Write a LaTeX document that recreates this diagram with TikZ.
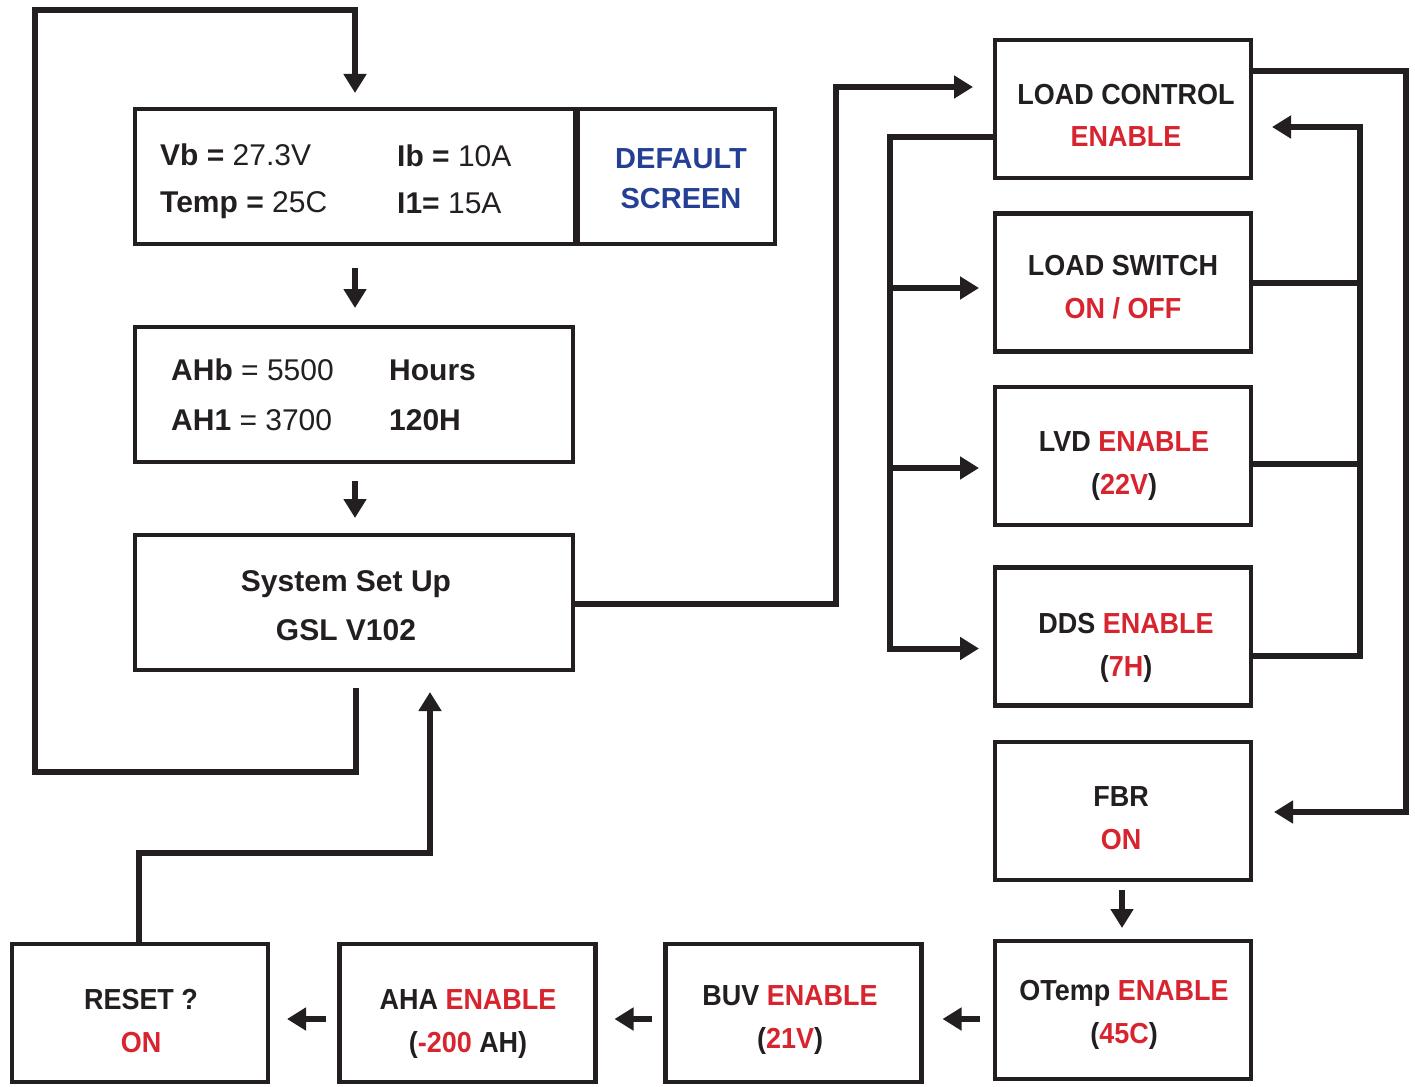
\documentclass[tikz,border=0pt]{standalone}
\usepackage{fontspec}
\setmainfont{Liberation Sans}
\newfontfamily\condf[FakeStretch=0.93]{Liberation Sans}
\usetikzlibrary{arrows.meta,calc}
\definecolor{ink}{HTML}{231F20}
\definecolor{rd}{HTML}{D7242E}
\definecolor{bl}{HTML}{243F94}
\begin{document}
\begin{tikzpicture}[x=1pt,y=-1pt,
  box/.style={draw=ink,line width=4.5pt,inner sep=0pt,outer sep=0pt},
  rb/.style={box,minimum width=256pt,minimum height=138pt},
  conn/.style={draw=ink,line width=6pt,line join=miter},
  arr/.style={conn,-{Triangle[length=19pt,width=22pt]}},
  txt/.style={text=ink,inner sep=0pt,font=\fontsize{30}{36}\selectfont},
  lbl/.style={anchor=base,text=ink,inner sep=0pt,font=\condf\bfseries\fontsize{29}{34}\selectfont}]
\useasboundingbox (0,0) rectangle (1415,1086);

% boxes
\node[box,minimum width=440pt,minimum height=135pt] (d1) at (355,176.5) {};
\node[box,minimum width=197pt,minimum height=135pt] (ds) at (676.5,176.5) {};
\node[box,minimum width=438pt,minimum height=135pt] (b2) at (354,394.5) {};
\node[box,minimum width=438pt,minimum height=135pt] (sys) at (354,602.5) {};
\node[rb] (lc) at (1123,109) {};
\node[rb] (ls) at (1123,282.5) {};
\node[rb] (lvd) at (1123,456) {};
\node[rb] (dds) at (1123,636.5) {};
\node[rb] (fbr) at (1123,811) {};
\node[rb] (ot) at (1123,1010) {};
\node[rb] (buv) at (793.5,1013) {};
\node[rb] (aha) at (467.5,1013) {};
\node[rb] (reset) at (140,1013) {};

% texts
\node[txt,anchor=base west] (vb) at (160,166) {\textbf{Vb =} 27.3V};
\node[txt,anchor=base west] (ib) at (397,167) {\textbf{Ib =} 10A};
\node[txt,anchor=base west] (tp) at (160,212) {\textbf{Temp =} 25C};
\node[txt,anchor=base west] (i1) at (397,213) {\textbf{I1=} 15A};
\node[txt,anchor=base,text=bl,font=\bfseries\fontsize{29}{34}\selectfont] (df1) at (681,168) {DEFAULT};
\node[txt,anchor=base,text=bl,font=\bfseries\fontsize{29}{34}\selectfont] (df2) at (681,208) {SCREEN};
\node[txt,anchor=base west] (ahb) at (171,380) {\textbf{AHb} = 5500};
\node[txt,anchor=base west] (ah1) at (171,430) {\textbf{AH1} = 3700};
\node[txt,anchor=base west] (hrs) at (389,380) {\textbf{Hours}};
\node[txt,anchor=base west] (h120) at (389,430) {\textbf{120H}};
\node[txt,anchor=base] (sy1) at (346,591) {\textbf{System Set Up}};
\node[txt,anchor=base] (sy2) at (346,640) {\textbf{GSL V102}};

\node[lbl] (lc1) at (1126,105) {LOAD CONTROL};
\node[lbl] (lc2) at (1126,147) {\textcolor{rd}{ENABLE}};
\node[lbl] (ls1) at (1123,275.5) {LOAD SWITCH};
\node[lbl] (ls2) at (1123,318) {\textcolor{rd}{ON / OFF}};
\node[lbl] (lvd1) at (1124,451.5) {LVD \textcolor{rd}{ENABLE}};
\node[lbl] (lvd2) at (1124,494.5) {(\textcolor{rd}{22V})};
\node[lbl] (dds1) at (1126,633) {DDS \textcolor{rd}{ENABLE}};
\node[lbl] (dds2) at (1126,676) {(\textcolor{rd}{7H})};
\node[lbl] (fbr1) at (1121,806) {FBR};
\node[lbl] (fbr2) at (1121,849) {\textcolor{rd}{ON}};
\node[lbl] (ot1) at (1124,1000) {OTemp \textcolor{rd}{ENABLE}};
\node[lbl] (ot2) at (1124,1043) {(\textcolor{rd}{45C})};
\node[lbl] (buv1) at (790,1005) {BUV \textcolor{rd}{ENABLE}};
\node[lbl] (buv2) at (790,1048) {(\textcolor{rd}{21V})};
\node[lbl] (aha1) at (468,1009) {AHA \textcolor{rd}{ENABLE}};
\node[lbl] (aha2) at (468,1052) {(\textcolor{rd}{-200} AH)};
\node[lbl] (rs1) at (141,1009) {RESET ?};
\node[lbl] (rs2) at (141,1052) {\textcolor{rd}{ON}};

% bend coordinates
\coordinate (loopBL) at (35,771.5);
\coordinate (loopTL) at (35,10);
\coordinate (busA) at (836,87);

% connectors
\draw[arr] ($(sys.south)+(2,18)$) |- (loopBL) -- (loopTL) -| ($(d1.north)+(0,-16)$);
\draw[arr] ($(d1.south)+(0,24)$) -- ($(d1.south |- b2.north)+(0,-19)$);
\draw[arr] ($(b2.south)+(1,19)$) -- ($(b2.south |- sys.north)+(1,-17)$);
\draw[arr] ($(sys.east)+(0,1.5)$) -| (busA) -- ($(lc.west)+(-22,-22)$);

\draw[arr] ($(lc.west)+(0,28)$) -| ($(dds.west)+(-105,12)$) -- ($(dds.west)+(-16,12)$);
\draw[arr] ($(ls.west)+(-105,5.5)$) -- ($(ls.west)+(-16,5.5)$);
\draw[arr] ($(lvd.west)+(-105,12)$) -- ($(lvd.west)+(-16,12)$);

\draw[arr] ($(dds.east)+(0,19.5)$) -| ($(lc.east)+(109,18)$) -- ($(lc.east)+(21,18)$);
\draw[conn] (ls.east) -- ++(109,0);
\draw[conn] ($(lvd.east)+(0,8)$) -- ++(109,0);

\draw[arr] ($(lc.east)+(0,-37.5)$) -| ($(fbr.east)+(155,1)$) -- ($(fbr.east)+(23,1)$);
\draw[arr] ($(fbr.south)+(-1,10)$) -- ($(fbr.south |- ot.north)+(-1,-13)$);

\draw[arr] ($(ot.west)+(-15,9)$) -- ($(buv.east)+(21,6)$);
\draw[arr] ($(buv.west)+(-14,6)$) -- ($(aha.east)+(19,6)$);
\draw[arr] ($(aha.west)+(-14,6)$) -- ($(reset.east)+(19,6)$);
\draw[arr] ($(reset.north)+(-1,0)$) |- ($(sys.south)+(76,183)$) -- ($(sys.south)+(76,22)$);
\end{tikzpicture}
\end{document}
